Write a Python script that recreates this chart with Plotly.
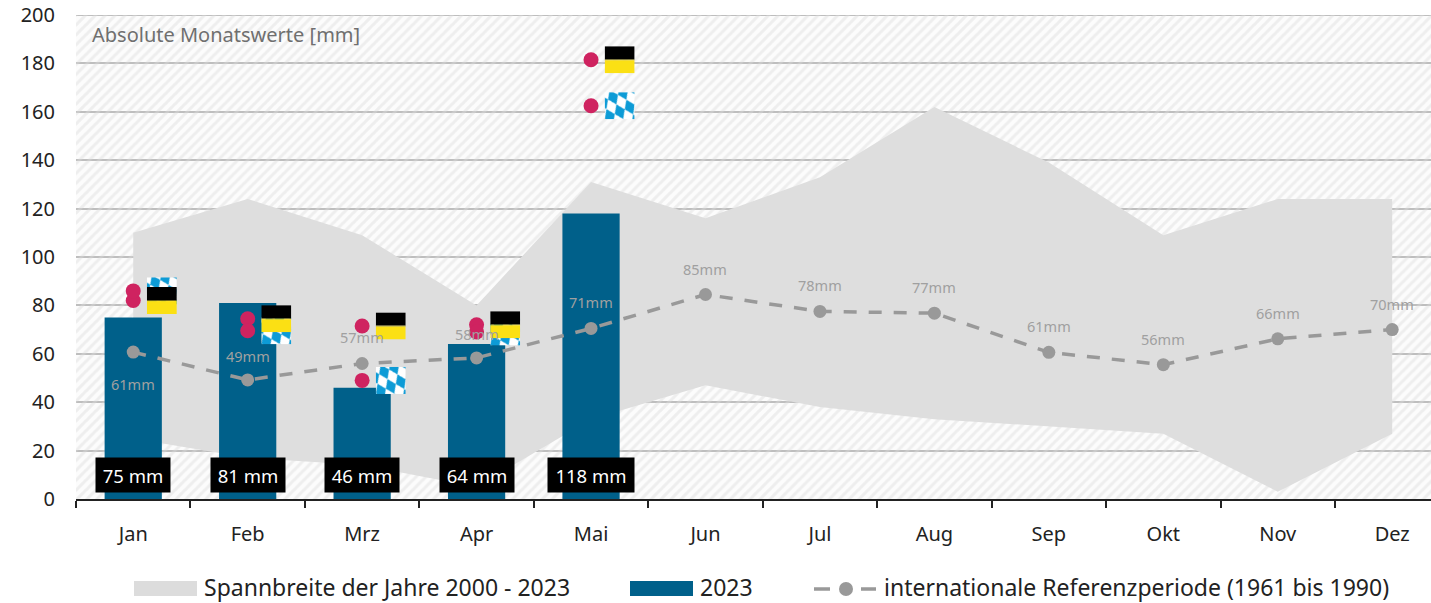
import base64
import plotly.graph_objects as go

months = ["Jan", "Feb", "Mrz", "Apr", "Mai", "Jun", "Jul", "Aug", "Sep", "Okt", "Nov", "Dez"]
range_upper = [110, 124, 109, 80, 131, 116, 133, 162, 139, 109, 124, 124]
range_lower = [25, 17, 14, 5, 33, 47, 38, 33, 30, 27, 3, 27]
values_2023 = [75, 81, 46, 64, 118]
reference = [60.7, 49.2, 56, 58.3, 70.5, 84.5, 77.5, 76.8, 60.6, 55.5, 66.2, 70]
reference_labels = ["61mm", "49mm", "57mm", "58mm", "71mm", "85mm", "78mm", "77mm", "61mm", "56mm", "66mm", "70mm"]
label_shift = [-32, 24, 26, 24, 26, 26, 26, 26, 26, 26, 26, 26]
bw_values = [82, 74.5, 71.5, 72, 181.5]
by_values = [86, 69.5, 49, 69, 162.5]
y_ticks = [0, 20, 40, 60, 80, 100, 120, 140, 160, 180, 200]

W, H = 1431, 603
L, R, T, B = 76, 0, 15, 104
FONT = "Noto Sans"
GRID = "#a6a6a6"
idx = list(range(len(months)))
xr = [-0.5, 11.339]
px = lambda v: (v - L) / (W - L - R)
py = lambda v: (H - B - v) / (H - T - B)

bw_svg = ('<svg xmlns="http://www.w3.org/2000/svg" width="60" height="54" preserveAspectRatio="none">'
          '<rect width="60" height="26" fill="#000"/><rect y="26" width="60" height="2" fill="#6b6312"/>'
          '<rect y="28" width="60" height="26" fill="#fbe014"/></svg>')
by_svg = ('<svg xmlns="http://www.w3.org/2000/svg" width="60" height="54" preserveAspectRatio="none">'
          '<defs><pattern id="p" width="22" height="32" patternUnits="userSpaceOnUse" '
          'patternTransform="rotate(-25)">'
          '<rect width="22" height="32" fill="#fff"/><path d="M11 0L22 16L11 32L0 16Z" fill="#0d9bd6"/>'
          '</pattern></defs><rect width="60" height="54" fill="url(#p)"/></svg>')
uri = lambda s: "data:image/svg+xml;base64," + base64.b64encode(s.encode()).decode()

fig = go.Figure()
# hatched backdrop
fig.add_trace(go.Bar(x=[5.5], y=[200], width=[13], showlegend=False, hoverinfo="skip",
                     marker=dict(color="rgba(0,0,0,0)", line_width=0,
                                 pattern=dict(shape="/", fgcolor="rgba(218,218,218,0.85)",
                                              bgcolor="rgba(245,245,245,0.3)", size=7, solidity=0.42))))
# range band
fig.add_trace(go.Scatter(x=idx + idx[::-1], y=range_upper + range_lower[::-1], mode="lines",
                         fill="toself", fillcolor="#dedede", line=dict(width=0), showlegend=False,
                         name="Spannbreite der Jahre 2000 - 2023"))
# 2023 bars (overlay axes so they sit above the band)
fig.add_trace(go.Bar(x=idx[:5], y=values_2023, width=0.5, marker=dict(color="#00608a", line_width=0),
                     xaxis="x2", yaxis="y2", showlegend=False, name="2023"))
fig.add_trace(go.Scatter(x=idx, y=reference, mode="lines+markers", xaxis="x2", yaxis="y2", showlegend=False,
                         line=dict(color="#999999", width=3.5, dash="13px,12px"),
                         marker=dict(color="#999999", size=13),
                         name="internationale Referenzperiode (1961 bis 1990)"))
fig.add_trace(go.Scatter(x=idx[:5], y=bw_values, mode="markers", xaxis="x2", yaxis="y2", showlegend=False,
                         marker=dict(color="#cf2360", size=15), name="Baden-Württemberg"))
fig.add_trace(go.Scatter(x=idx[:5], y=by_values, mode="markers", xaxis="x2", yaxis="y2", showlegend=False,
                         marker=dict(color="#cf2360", size=15), name="Bayern"))

annotations = [dict(x=i, y=v, text=t, xref="x", yref="y", showarrow=False, yshift=s,
                    font=dict(family=FONT, size=14.5, color="#a0a0a0"))
               for i, v, t, s in zip(idx, reference, reference_labels, label_shift)]
annotations += [dict(x=i, y=0, text=f"{v} mm", xref="x", yref="y", showarrow=False, yshift=24,
                     bgcolor="#000000", width=86 if v >= 100 else 74, height=34, borderpad=0,
                     font=dict(family=FONT, size=18.5, color="#ffffff"))
                for i, v in zip(idx, values_2023)]
annotations.append(dict(x=px(90), y=py(35), xref="paper", yref="paper", xanchor="left", yanchor="middle",
                        showarrow=False, text="Absolute Monatswerte [mm]",
                        font=dict(family=FONT, size=20, color="#6f6f6f")))

LEGEND_Y = py(587)
shapes = [dict(type="line", xref="paper", yref="y", x0=0, x1=1, y0=200, y1=200, layer="below",
               line=dict(color=GRID, width=2))]
for x0, text, color in [(134, "Spannbreite der Jahre 2000 - 2023", "#dcdcdc"), (630, "2023", "#00608a")]:
    shapes.append(dict(type="rect", xref="paper", yref="paper", x0=px(x0), x1=px(x0 + 63),
                       y0=py(596), y1=py(581), fillcolor=color, line_width=0))
    annotations.append(dict(x=px(x0 + 68), y=LEGEND_Y, xref="paper", yref="paper", xanchor="left", yanchor="middle",
                            showarrow=False, text=text, font=dict(family=FONT, size=23, color="#222222")))
for a, b in [(814, 830), (861, 876)]:
    shapes.append(dict(type="line", xref="paper", yref="paper", x0=px(a), x1=px(b), y0=py(589), y1=py(589),
                       line=dict(color="#999999", width=3.5)))
shapes.append(dict(type="circle", xref="paper", yref="paper", x0=px(839), x1=px(853), y0=py(596), y1=py(582),
                   fillcolor="#999999", line_width=0))
annotations.append(dict(x=px(882), y=LEGEND_Y, xref="paper", yref="paper", xanchor="left", yanchor="middle",
                        showarrow=False, text="internationale Referenzperiode (1961 bis 1990)",
                        font=dict(family=FONT, size=23, color="#222222")))

images = []
for src, vals in [(by_svg, by_values), (bw_svg, bw_values)]:
    for i, v in zip(idx[:5], vals):
        images.append(dict(source=uri(src), xref="x", yref="y", x=i + 0.25, y=v, xanchor="center", yanchor="middle",
                           sizex=0.262, sizey=11.2, sizing="stretch", layer="above"))

fig.update_layout(
    width=W, height=H, margin=dict(l=L, r=R, t=T, b=B, pad=0), autosize=False,
    paper_bgcolor="#ffffff", plot_bgcolor="#ffffff", barmode="overlay", showlegend=False,
    font=dict(family=FONT, size=18, color="#222222"),
    annotations=annotations, shapes=shapes, images=images,
    xaxis=dict(range=xr, tickmode="array", tickvals=idx, ticktext=months, ticks="", ticklen=0,
               showgrid=False, zeroline=False, showline=True, linecolor="#222222", linewidth=2,
               ticklabelstandoff=16,
               tickfont=dict(family=FONT, size=20, color="#222222"),
               minor=dict(ticks="outside", ticklen=7, tickwidth=2, tickcolor="#222222", tick0=-0.5, dtick=1,
                          showgrid=False)),
    yaxis=dict(range=[0, 200], tickmode="array", tickvals=y_ticks, showgrid=True, gridcolor=GRID, gridwidth=2,
               zeroline=False, showline=False, ticks="", ticklabelstandoff=20,
               tickfont=dict(family=FONT, size=20, color="#222222")),
    xaxis2=dict(range=xr, overlaying="x", visible=False),
    yaxis2=dict(range=[0, 200], overlaying="y", visible=False),
)
fig.write_html("out.html", config={"displayModeBar": False},
               post_script="document.body.style.margin='0';document.documentElement.style.overflow='hidden';")
